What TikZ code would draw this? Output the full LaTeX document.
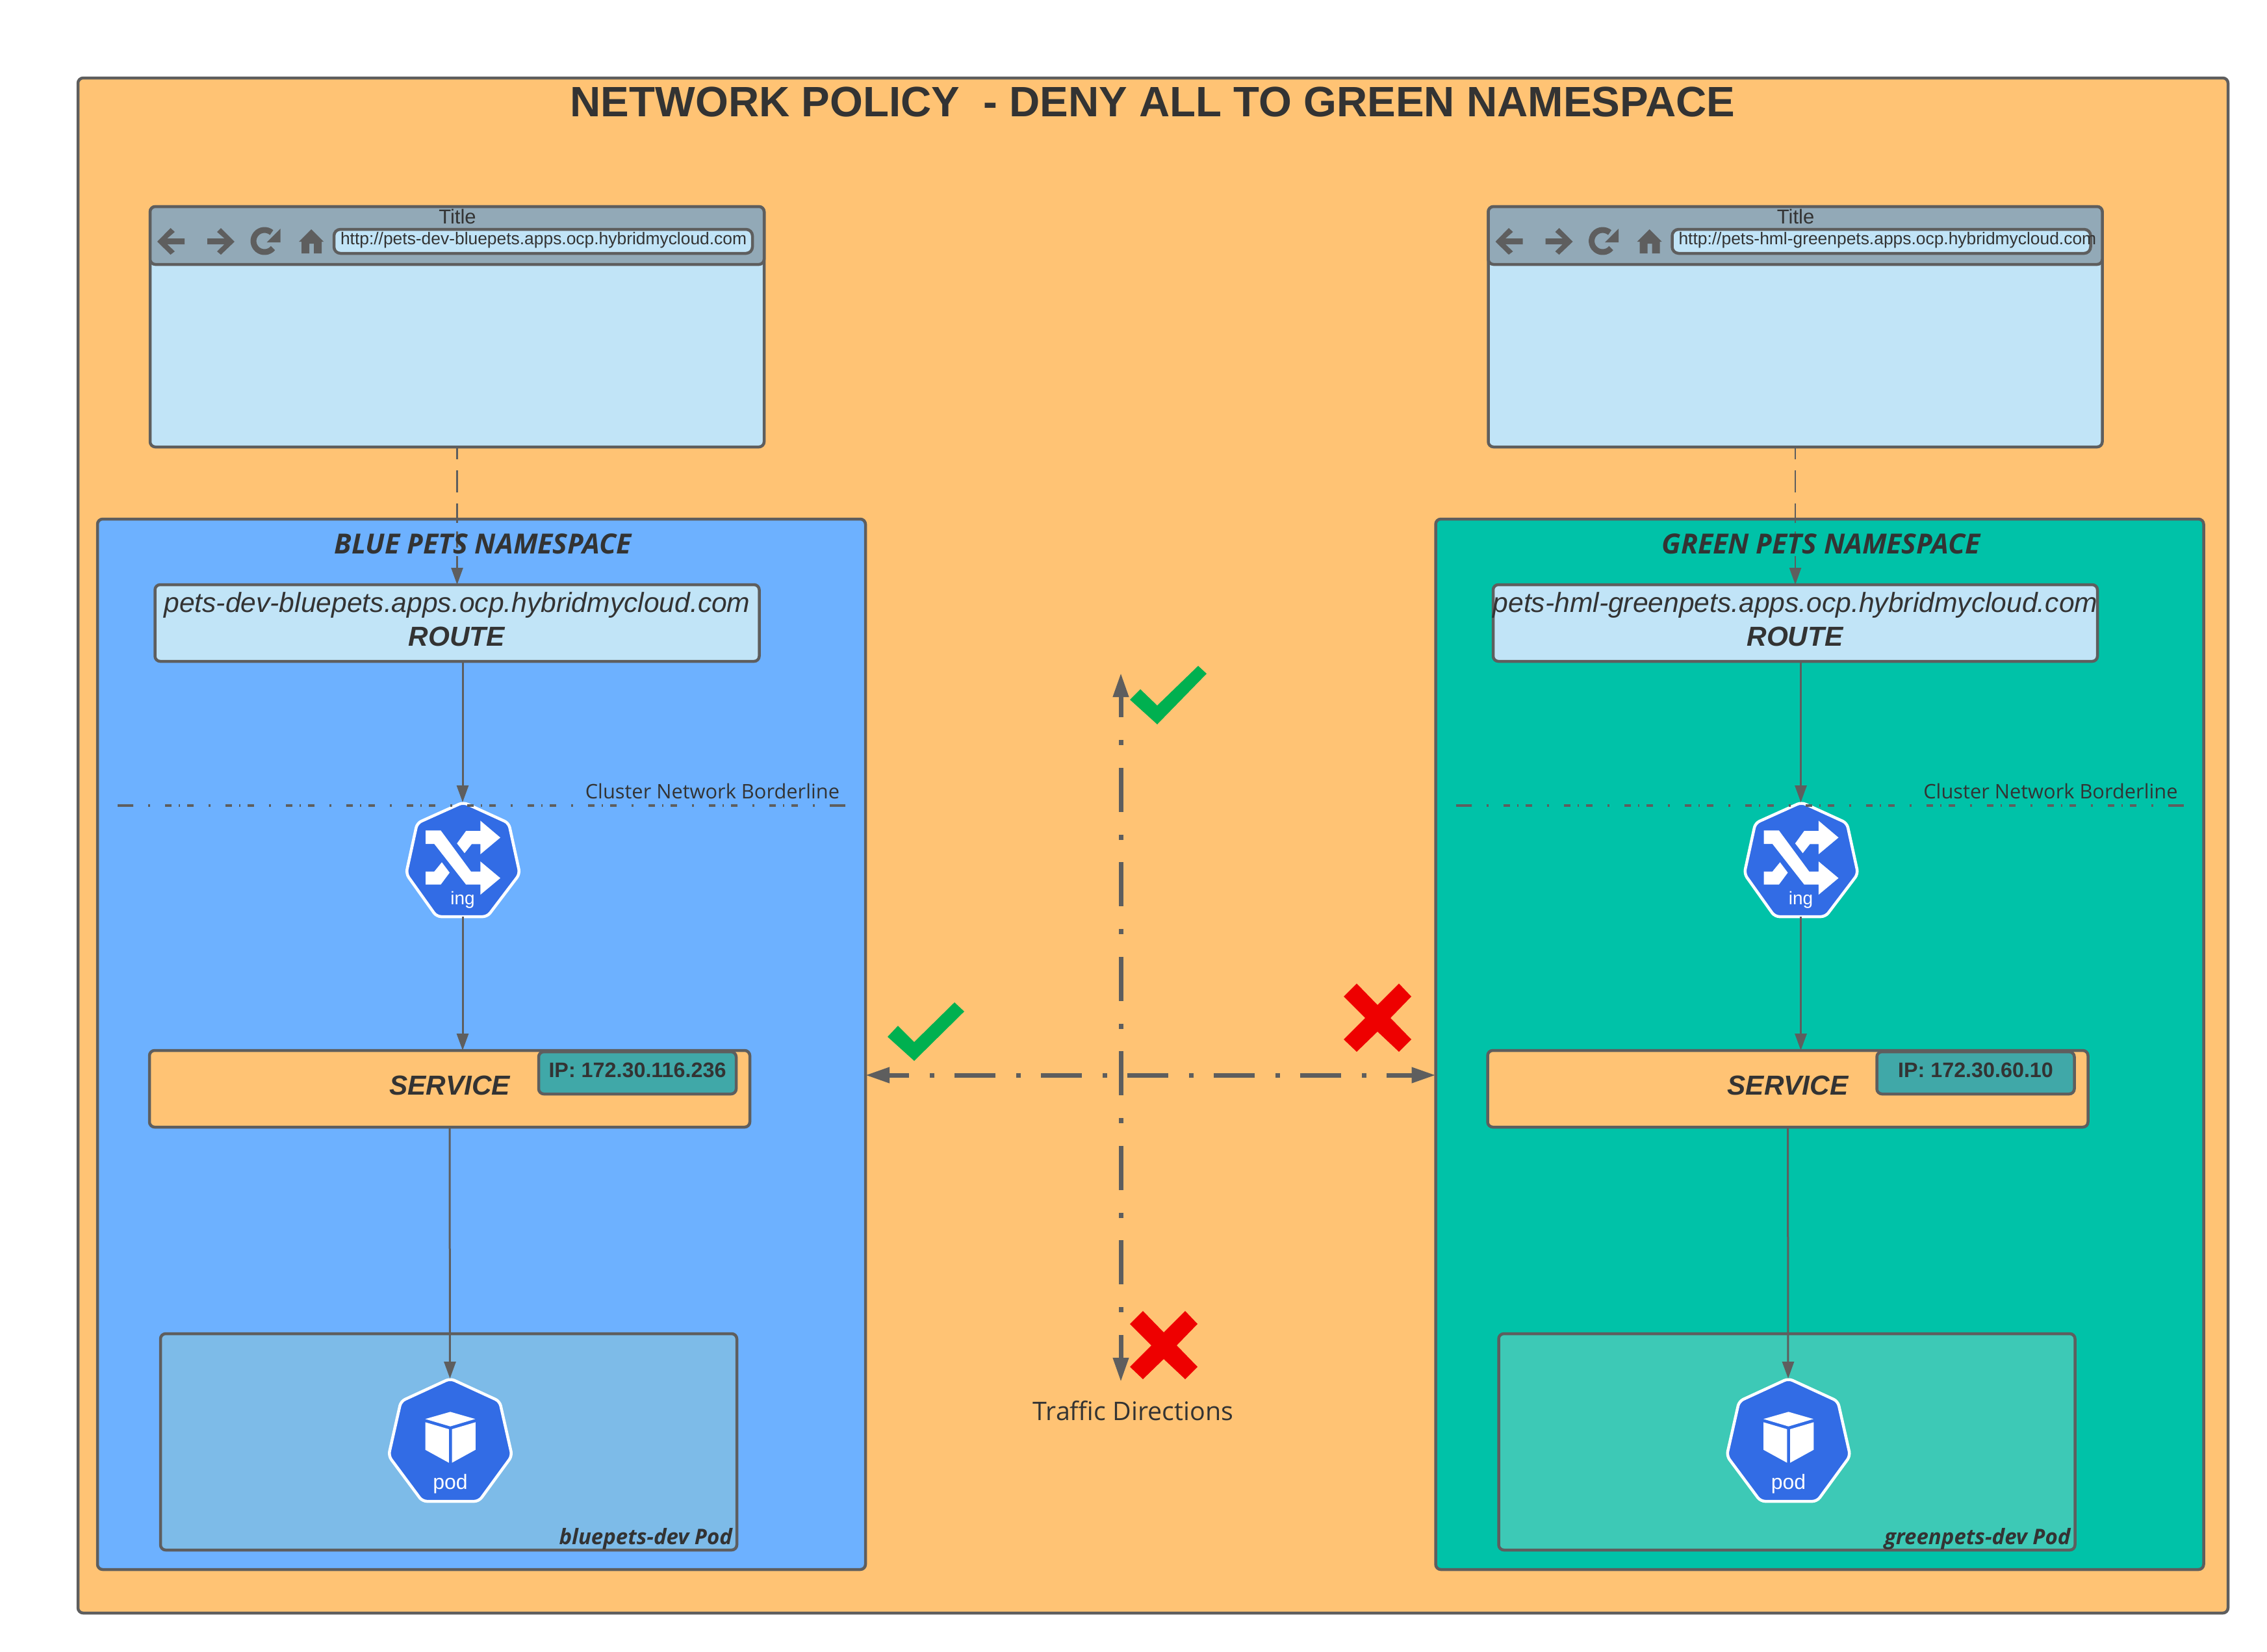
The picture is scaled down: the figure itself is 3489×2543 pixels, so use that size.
\documentclass[tikz,border=0pt]{standalone}
\usepackage{fontspec}
\setmainfont{Liberation Sans}
\newfontfamily\osans{Open Sans}
\usetikzlibrary{arrows.meta}
\definecolor{orangebg}{HTML}{FFC374}
\definecolor{bluens}{HTML}{6DB1FF}
\definecolor{greenns}{HTML}{00C2A8}
\definecolor{bluepod}{HTML}{7DBBE8}
\definecolor{greenpod}{HTML}{3DC9B6}
\definecolor{paleblue}{HTML}{C1E4F7}
\definecolor{headgrey}{HTML}{92A9B7}
\definecolor{tealip}{HTML}{40A8A8}
\definecolor{linegrey}{HTML}{5E5E5E}
\definecolor{inktext}{HTML}{333333}
\definecolor{k8sblue}{HTML}{326CE5}
\definecolor{okgreen}{HTML}{00B050}
\definecolor{nored}{HTML}{EE0000}
\newcommand{\fsz}[1]{\fontsize{#1}{#1}\selectfont}
\tikzset{
  x=1pt,y=-1pt,
  box/.style={draw=linegrey,line width=4.5pt,rounded corners=8pt,inner sep=0pt,outer sep=0pt},
  label/.style={text=inktext,inner sep=0pt,outer sep=0pt},
  slot/.style={inner sep=0pt,outer sep=0pt,minimum width=175pt},
  conn/.style={draw=linegrey,line width=3pt,-{Triangle[length=26pt,width=18pt]}},
  hept/.style={fill=k8sblue,draw=white,line width=4.5pt,rounded corners=7pt},
  glyph/.style={fill=linegrey,draw=none},
  border line/.style={draw=linegrey,line width=3.5pt},
  traffic/.style={draw=linegrey,line width=7pt,{Triangle[length=37pt,width=23pt]}-{Triangle[length=37pt,width=23pt]}},
}
% #1 prefix, #2 ns fill, #3 ns title, #4 url, #5 host, #6 ip, #7 pod fill, #8 pod label
\newcommand{\petsns}[8]{%
  \node[box,fill=#2,minimum width=1182pt,minimum height=1617pt] (#1ns) at (741,1607.5) {};
  % browser
  \node[box,fill=paleblue,minimum width=945pt,minimum height=370pt] (#1browser) at (703.5,503) {};
  \node[box,fill=headgrey,minimum width=945pt,minimum height=89pt] (#1head) at (703.5,362.5) {};
  \node[label,font=\fsz{31}] (#1title) at (704,333) {Title};
  \fill[glyph] (242,372)--(262.5,351)--(269,357)--(257.4,367)--(284,367)--(284,376)--(257.4,376)--(269,387)--(262.5,392)--cycle;
  \fill[glyph] (361,372)--(340,351)--(334,357)--(345.4,367)--(319,367)--(319,376)--(345.4,376)--(334,387)--(340,392)--cycle;
  \draw[draw=linegrey,line width=9pt] (418,358) arc[start angle=50,end angle=320,radius=17pt];
  \fill[glyph] (431.5,352)--(431.5,373)--(410.5,373)--cycle;
  \fill[glyph] (479,353)--(498,372)--(495,372)--(495,390)--(483,390)--(483,375)--(476,375)--(476,390)--(464,390)--(464,372)--(460,372)--cycle;
  \node[box,fill=paleblue,minimum width=644pt,minimum height=37pt,rounded corners=10pt] (#1pill) at (836,371.5) {};
  \node[label,font=\fsz{26.4},anchor=west] (#1url) at (524,370) {#4};
  % route
  \node[box,fill=paleblue,minimum width=930pt,minimum height=118pt] (#1route) at (703.5,959) {};
  % layout slots for icons
  \node[slot,minimum height=176pt] (#1ing) at (712,1323) {};
  \node[slot,minimum height=189pt,minimum width=190pt] (#1pod) at (692.5,2216.5) {};
  % service
  \node[box,fill=orangebg,minimum width=924pt,minimum height=118pt] (#1service) at (692,1676) {};
  \node[box,fill=tealip,minimum width=304pt,minimum height=65pt] (#1ipbox) at (981,1651.5) {};
  % pod box
  \node[box,fill=#7,minimum width=887pt,minimum height=333pt] (#1podbox) at (690.5,2219.5) {};
  % ingress icon
  \draw[hept] (713,1235)--(783,1267)--(800,1345)--(750,1411)--(672,1411)--(625,1345)--(642,1267)--cycle;
  \fill[white] (655,1278.3)--(678.3,1278.3)--(725,1341.7)--(739.3,1341.7)--(739.3,1326)--(770,1351.7)--(739.3,1377.3)--(739.3,1361.7)--(717.3,1361.7)--(668.3,1299)--(655,1299)--cycle;
  \fill[white] (703.3,1298.3)--(717.3,1279)--(739.3,1279)--(739.3,1263.3)--(770,1289.3)--(739.3,1315)--(739.3,1299.3)--(726,1299.3)--(715,1313.3)--cycle;
  \fill[white] (655,1341.7)--(668.3,1341.7)--(680,1327.3)--(692,1343.3)--(678.3,1361.7)--(655,1361.7)--cycle;
  \node[label,text=white,font=\fsz{28}] (#1inglabel) at (712,1385) {ing};
  % pod icon
  \draw[hept] (693,2122)--(769,2157)--(788,2241)--(737,2311)--(650,2311)--(598,2241)--(617,2157)--cycle;
  \fill[white] (693,2173.3)--(731.4,2184.3)--(693,2195.7)--(654.5,2184.3)--cycle;
  \fill[white] (654.5,2189.3)--(690.9,2200)--(690.9,2251.7)--(654.5,2231.7)--cycle;
  \fill[white] (695.5,2200)--(731.8,2189.3)--(731.8,2231.7)--(695.5,2251.7)--cycle;
  \node[label,text=white,font=\fsz{32}] (#1podlabel) at (693,2284) {pod};
  % connectors
  \draw[draw=linegrey,line width=2.5pt,-{Triangle[length=26pt,width=18pt]},dash pattern=on 19pt off 17pt on 34pt off 17pt on 30pt off 13pt on 25pt off 13pt on 80pt] (#1browser.south) -- (#1route.north);
  \draw[conn] (#1ing.north |- #1route.south) -- (#1ing.north);
  \draw[conn] (#1ing.south) -- (#1ing.south |- #1service.north);
  \draw[conn] (#1service.south) -- (#1pod.north);
  % borderline
  \coordinate (#1bla) at (181,1240);
  \coordinate (#1blb) at (205,1240);
  \coordinate (#1blc) at (1278,1240);
  \coordinate (#1bld) at (1301,1240);
  \draw[border line,dash pattern=on 10pt off 11pt on 2pt off 11pt on 10pt off 23pt on 3pt off 23pt,dash phase=44pt] (#1blb) -- (#1blc);
  \draw[border line] (#1bla) -- (#1blb);
  \draw[border line] (#1blc) -- (#1bld);
  % text
  \node[label,font=\osans\bfseries\itshape\fsz{42.7}] (#1nstitle) at (743,837) {#3};
  \node[label,font=\fsz{42.6},align=center] (#1host) at (703.5,931) {\itshape #5};
  \node[label,font=\bfseries\itshape\fsz{42.3}] (#1routetext) at (703,980) {ROUTE};
  \node[label,font=\bfseries\itshape\fsz{42.3}] (#1servicetext) at (692,1671) {SERVICE};
  \node[label,font=\bfseries\fsz{32.3}] (#1iptext) at (981,1647) {#6};
  \node[label,font=\osans\fsz{30.8},anchor=east] (#1cluster) at (1292,1218) {Cluster Network Borderline};
  \node[label,font=\osans\bfseries\itshape\fsz{33},anchor=east] (#1podtext) at (1127,2369) {#8};
}
\begin{document}
\begin{tikzpicture}
  \useasboundingbox (0,0) rectangle (3489,2543);
  \fill[white] (0,0) rectangle (3489,2543);
  \node[box,fill=orangebg,minimum width=3309pt,minimum height=2363pt] (outer) at (1774.5,1301.5) {};
  \node[label,font=\bfseries\fsz{65.4}] (maintitle) at (1774,157) {NETWORK POLICY\ \ - DENY ALL TO GREEN NAMESPACE};

  \petsns{b}{bluens}{BLUE PETS NAMESPACE}{http://pets-dev-bluepets.apps.ocp.hybridmycloud.com}{pets-dev-bluepets.apps.ocp.hybridmycloud.com}{IP: 172.30.116.236}{bluepod}{bluepets-dev Pod}
  \begin{scope}[xshift=2059.5pt]
    \petsns{g}{greenns}{GREEN PETS NAMESPACE}{http://pets-hml-greenpets.apps.ocp.hybridmycloud.com}{pets-hml-greenpets.apps.ocp.hybridmycloud.com}{IP: 172.30.60.10}{greenpod}{greenpets-dev Pod}
  \end{scope}

  % traffic arrows
  \coordinate (tup) at (1725,1036);
  \coordinate (tdown) at (1725,2127);
  \draw[traffic,dash pattern=on 68pt off 35pt on 8pt off 34.5pt,dash phase=35pt] (tup) -- (tdown);
  \draw[traffic,dash pattern=on 63pt off 32pt on 7pt off 31pt,dash phase=31pt] (bns.east |- 0,1655) -- (gns.west |- 0,1655);
  \node[label,font=\osans\fsz{39.4}] (traffic) at (1744,2172) {Traffic Directions};

  % marks
  \fill[okgreen] (1739,1077)--(1755,1061)--(1781,1086)--(1844,1025)--(1857,1037)--(1781,1115)--cycle;
  \fill[okgreen] (1366,1596)--(1382,1579)--(1407,1604)--(1469,1543)--(1484,1557)--(1407,1633)--cycle;
  \begin{scope}[shift={(2120,1567)}]
    \fill[nored] (-32,-53)--(0,-20)--(33,-53)--(52,-33)--(20,0)--(52,33)--(33,52)--(0,21)--(-32,52)--(-52,33)--(-19,0)--(-52,-33)--cycle;
  \end{scope}
  \begin{scope}[shift={(1791,2071)}]
    \fill[nored] (-32,-53)--(0,-20)--(33,-53)--(52,-33)--(20,0)--(52,33)--(33,52)--(0,21)--(-32,52)--(-52,33)--(-19,0)--(-52,-33)--cycle;
  \end{scope}
\end{tikzpicture}
\end{document}
